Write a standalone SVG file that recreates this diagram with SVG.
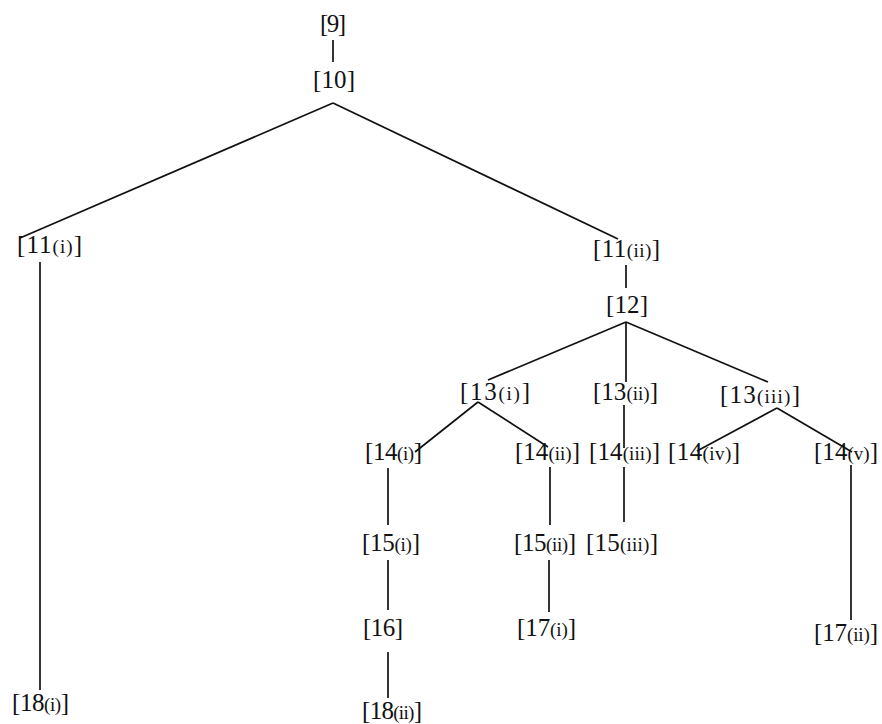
<svg xmlns="http://www.w3.org/2000/svg" width="882" height="724" viewBox="0 0 882 724">
<style>
text{font-family:"Liberation Serif","Times New Roman",serif;font-size:25px;fill:#111}
.s{font-size:19px}
.c line{stroke:#111;stroke-width:1.7;fill:none}
</style>
<rect width="882" height="724" fill="#fff"/>
<g class="c" id="connectors">
<line x1="333" y1="40" x2="333" y2="62"/>
<line x1="333" y1="103" x2="20" y2="238"/>
<line x1="333" y1="103" x2="618" y2="239"/>
<line x1="40" y1="262" x2="40" y2="690"/>
<line x1="626" y1="265" x2="626" y2="288"/>
<line x1="626" y1="322" x2="488" y2="380"/>
<line x1="626" y1="322" x2="626" y2="382"/>
<line x1="626" y1="322" x2="768" y2="382"/>
<line x1="478" y1="402" x2="415" y2="452"/>
<line x1="478" y1="402" x2="548" y2="447"/>
<line x1="624" y1="405" x2="624" y2="448"/>
<line x1="777" y1="408" x2="697" y2="451"/>
<line x1="777" y1="408" x2="852" y2="452"/>
<line x1="388" y1="468" x2="388" y2="525"/>
<line x1="550" y1="467" x2="550" y2="525"/>
<line x1="624" y1="467" x2="624" y2="522"/>
<line x1="851" y1="465" x2="851" y2="620"/>
<line x1="388" y1="560" x2="388" y2="610"/>
<line x1="549" y1="560" x2="549" y2="612"/>
<line x1="388" y1="652" x2="388" y2="698"/>
</g>
<g id="n9"><text x="320" y="32" textLength="26" lengthAdjust="spacing">[9]</text></g>
<g id="n10"><text x="313" y="88" textLength="42" lengthAdjust="spacing">[10]</text></g>
<g id="n11i"><text x="17" y="253" textLength="65" lengthAdjust="spacing">[11<tspan class="s">(i)</tspan>]</text></g>
<g id="n11ii"><text x="593" y="257" textLength="67" lengthAdjust="spacing">[11<tspan class="s">(ii)</tspan>]</text></g>
<g id="n12"><text x="606" y="313" textLength="42" lengthAdjust="spacing">[12]</text></g>
<g id="n13i"><text x="460" y="400" textLength="70" lengthAdjust="spacing">[13<tspan class="s">(i)</tspan>]</text></g>
<g id="n13ii"><text x="593" y="400" textLength="65" lengthAdjust="spacing">[13<tspan class="s">(ii)</tspan>]</text></g>
<g id="n13iii"><text x="720" y="403" textLength="80" lengthAdjust="spacing">[13<tspan class="s">(iii)</tspan>]</text></g>
<g id="n14i"><text x="365" y="460" textLength="57" lengthAdjust="spacing">[14<tspan class="s">(i)</tspan>]</text></g>
<g id="n14ii"><text x="515" y="460" textLength="65" lengthAdjust="spacing">[14<tspan class="s">(ii)</tspan>]</text></g>
<g id="n14iii"><text x="589" y="460" textLength="71" lengthAdjust="spacing">[14<tspan class="s">(iii)</tspan>]</text></g>
<g id="n14iv"><text x="668" y="460" textLength="72" lengthAdjust="spacing">[14<tspan class="s">(iv)</tspan>]</text></g>
<g id="n14v"><text x="814" y="460" textLength="64" lengthAdjust="spacing">[14<tspan class="s">(v)</tspan>]</text></g>
<g id="n15i"><text x="362" y="551" textLength="58" lengthAdjust="spacing">[15<tspan class="s">(i)</tspan>]</text></g>
<g id="n15ii"><text x="514" y="551" textLength="62" lengthAdjust="spacing">[15<tspan class="s">(ii)</tspan>]</text></g>
<g id="n15iii"><text x="586" y="551" textLength="72" lengthAdjust="spacing">[15<tspan class="s">(iii)</tspan>]</text></g>
<g id="n16"><text x="363" y="636" textLength="40" lengthAdjust="spacing">[16]</text></g>
<g id="n17i"><text x="517" y="636" textLength="59" lengthAdjust="spacing">[17<tspan class="s">(i)</tspan>]</text></g>
<g id="n17ii"><text x="814" y="641" textLength="64" lengthAdjust="spacing">[17<tspan class="s">(ii)</tspan>]</text></g>
<g id="n18i"><text x="12" y="711" textLength="57" lengthAdjust="spacing">[18<tspan class="s">(i)</tspan>]</text></g>
<g id="n18ii"><text x="362" y="719" textLength="60" lengthAdjust="spacing">[18<tspan class="s">(ii)</tspan>]</text></g>
</svg>
